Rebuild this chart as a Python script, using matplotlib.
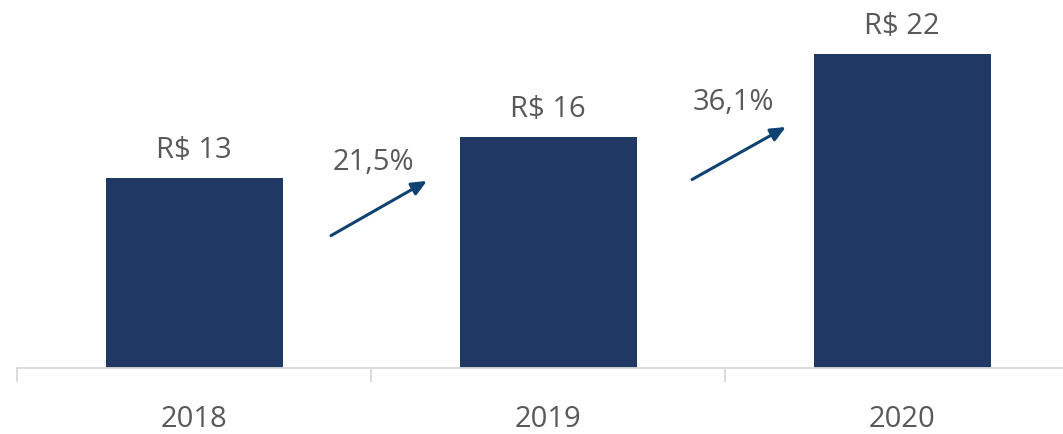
import matplotlib.pyplot as plt

plt.rcParams['font.family'] = ['Open Sans', 'DejaVu Sans']

# Revenue per year (R$)
years = ["2018", "2019", "2020"]
values = [13.2, 16.04, 21.83]

# growth arrows between bars: (x0, y0, x1, y1) in data units
arrows = [(0.387, 9.2, 0.658, 13.0), (1.407, 13.1, 1.672, 16.75)]
growth_label_pos = [(0.506, 14.35), (1.523, 18.5)]

bar_color = "#203864"
arrow_color = "#0f4272"
text_color = "#595959"
axis_color = "#d9d9d9"

fig = plt.figure(figsize=(10.63, 4.35), dpi=100)
ax = fig.add_axes([17 / 1063, 66 / 435, 1046 / 1063, 369 / 435])

x = list(range(len(years)))
bars = ax.bar(x, values, width=0.5, color=bar_color)

for b, v in zip(bars, values):
    ax.annotate(f"R$ {v:.0f}", (b.get_x() + b.get_width() / 2, v),
                xytext=(0, 10), textcoords="offset points",
                ha="center", va="bottom", fontsize=21, color=text_color)

for i, ((x0, y0, x1, y1), (tx, ty)) in enumerate(zip(arrows, growth_label_pos)):
    ax.annotate("", xy=(x1, y1), xytext=(x0, y0),
                arrowprops=dict(arrowstyle="-|>,head_length=0.9,head_width=0.4",
                                color=arrow_color, lw=2.2, shrinkA=0, shrinkB=0))
    growth = values[i + 1] / values[i] - 1
    label = f"{growth * 100:.1f}%".replace(".", ",")
    ax.text(tx, ty, label, ha="center", va="center", fontsize=21, color=text_color)

ax.set_xlim(-0.5, -0.5 + 1046 / 354)
ax.set_ylim(0, 369 / 14.39)

# category labels without ticks, boundary ticks only
ax.set_xticks(x)
ax.set_xticklabels(years, fontsize=21, color=text_color)
ax.tick_params(axis="x", which="major", length=0, pad=26)
ax.set_xticks([-0.5, 0.5, 1.5], minor=True)
ax.tick_params(axis="x", which="minor", length=10, width=1.3, color=axis_color)

ax.set_yticks([])
for side in ["left", "right", "top"]:
    ax.spines[side].set_visible(False)
ax.spines["bottom"].set_color(axis_color)
ax.spines["bottom"].set_linewidth(1.3)

fig.savefig("out.png", dpi=100)
